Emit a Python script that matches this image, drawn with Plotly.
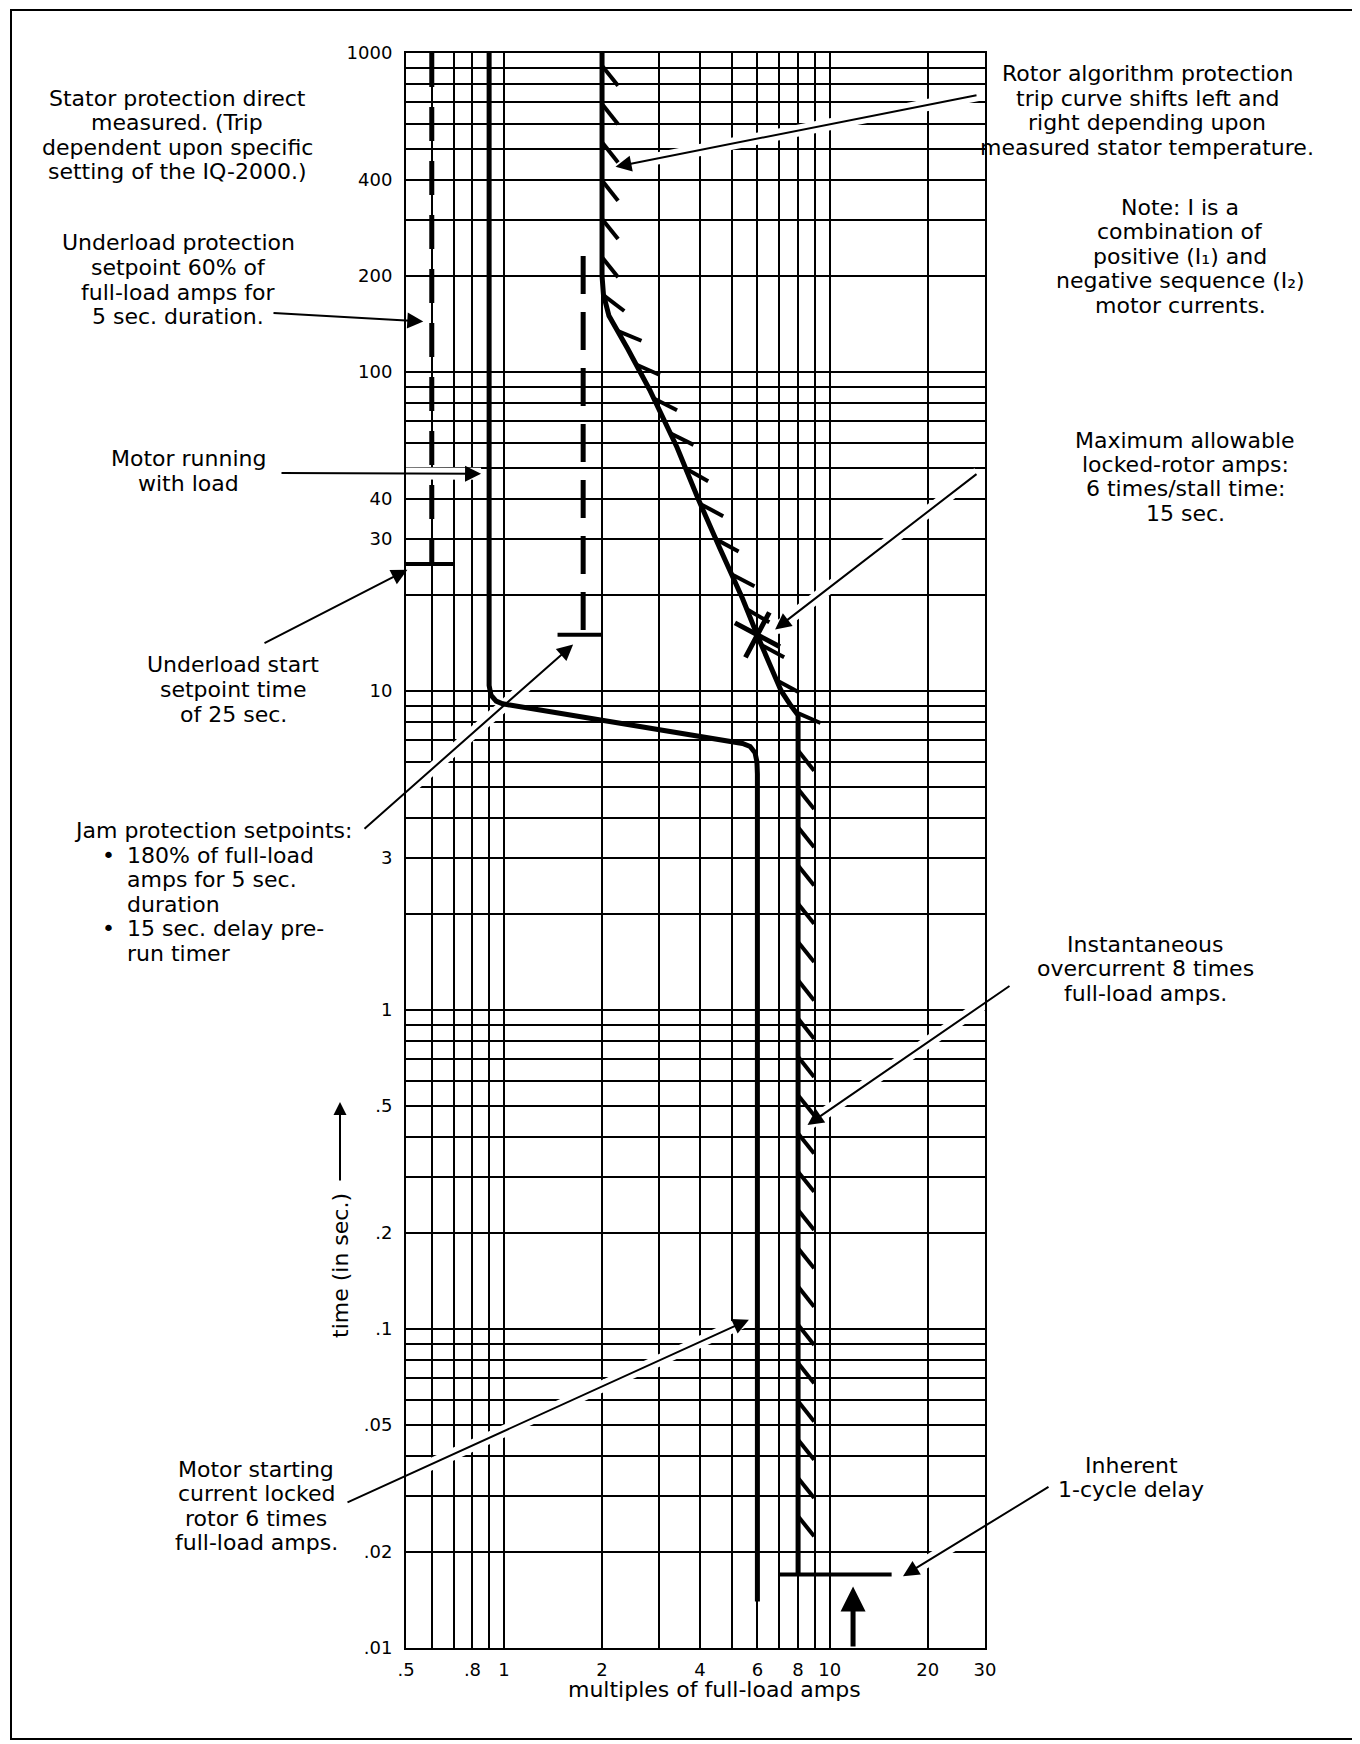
import numpy as np
import plotly.graph_objects as go

# ---------------- data ----------------
x_grid = [0.5, 0.6, 0.7, 0.8, 0.9, 1, 2, 3, 4, 5, 6, 7, 8, 9, 10, 20, 30]
x_labels = ['.5', '', '', '.8', '', '1', '2', '', '4', '', '6', '', '8', '', '10', '20', '30']

y_grid = [round(m * 10.0 ** e, 4) for e in range(-2, 3) for m in range(1, 10)] + [1000]
y_label_vals = [0.01, 0.02, 0.05, 0.1, 0.2, 0.5, 1, 3, 10, 30, 40, 100, 200, 400, 1000]
y_label_txt = ['.01', '.02', '.05', '.1', '.2', '.5', '1', '3', '10', '30', '40', '100', '200', '400', '1000']

# motor running with load / starting current curve
running_x = [0.9, 0.9, 0.912, 0.946, 0.99, 1.03, 2.0, 4.0, 5.0, 5.4, 5.7, 5.9, 5.98, 6.0, 6.0]
running_t = [1000, 10.4, 9.7, 9.3, 9.12, 9.05, 8.1, 7.25, 6.95, 6.85, 6.7, 6.4, 6.0, 5.5, 0.014]

# rotor algorithm trip curve + instantaneous overcurrent
rotor_x = [2.0, 2.0, 2.02, 2.1, 2.4, 2.8, 3.4, 3.93, 4.6, 5.4, 6.02, 7.1, 7.6, 7.9, 8.0, 8.0]
rotor_t = [1000, 200, 175, 150, 118, 88, 58, 40.4, 28, 19.5, 14.8, 10.0, 9.0, 8.6, 8.4, 0.017]

# underload (stator) dashed line and start setpoint
stator_x = [0.6, 0.6]
stator_t = [1000, 25]
ul_tick_x = [0.5, 0.7]
ul_tick_t = [25, 25]

# jam protection dashed line and delay setpoint
jam_x = [1.75, 1.75]
jam_t = [231, 15]
jam_tick_x = [1.46, 2.0]
jam_tick_t = [15, 15]

# inherent 1-cycle delay
cyc_x = [6.95, 15.5]
cyc_t = [0.017, 0.017]

# maximum allowable locked rotor point
stall_x = [6.0]
stall_t = [15.0]

# arrows: (head x, head t, tail x px, tail y px)
arrow_heads = [
    (2.2, 440, 970, 87),        # rotor algorithm
    (0.565, 144, 264, 305),     # underload protection
    (0.85, 48, 272, 465),       # motor running
    (0.505, 24, 255, 636),      # underload start
    (1.63, 14.0, 355, 822),     # jam protection
    (6.8, 15.6, 970, 465),      # max allowable
    (8.55, 0.436, 1003, 977),   # instantaneous
    (5.65, 0.107, 338, 1495),   # motor starting
    (16.8, 0.0168, 1042, 1478), # 1-cycle delay
]
up_arrow = (11.8, 0.0156)

# ---------------- layout geometry ----------------
L, R_, T, B = 398, 977, 45, 1640
W, H = R_ - L, B - T
LX0, LX1 = np.log10(0.5), np.log10(30)


def px(x):
    return (x - L) / W


def py(y):
    return (B - y) / H


def data_px(x, t):
    return (L + (np.log10(x) - LX0) / (LX1 - LX0) * W,
            T + (3 - np.log10(t)) / 5 * H)


def px_data(X, Y):
    return (10 ** (LX0 + (X - L) / W * (LX1 - LX0)),
            10 ** (3 - (Y - T) / H * 5))


fig = go.Figure()

# white halos under the leader lines (breaks in the printed grid)
hal_x, hal_y = [], []
for hxv, htv, tx_, ty_ in arrow_heads:
    ex, ey = px_data(tx_, ty_)
    hal_x += [hxv, ex, None]
    hal_y += [htv, ey, None]
fig.add_trace(go.Scatter(x=hal_x, y=hal_y, mode='lines', line=dict(color='white', width=12),
                         hoverinfo='skip', showlegend=False))


def add_line(xs, ts, width=5, dash=None):
    fig.add_trace(go.Scatter(x=xs, y=ts, mode='lines',
                             line=dict(color='black', width=width, dash=dash),
                             hoverinfo='skip', showlegend=False, cliponaxis=False))


add_line(stator_x, stator_t, 5, '34px,20px')
add_line(ul_tick_x, ul_tick_t, 4)
add_line(jam_x, jam_t, 5, '38px,18px')
add_line(jam_tick_x, jam_tick_t, 4)
add_line(running_x, running_t, 5)
add_line(rotor_x, rotor_t, 5)
add_line(cyc_x, cyc_t, 4)


# hatch marks along the rotor curve (computed in log space)
def hatch(xs, ts, step=0.12, s0=0.04, length=0.08, theta=np.radians(38), tmin=0.022):
    lx = np.log10(xs)
    ly = np.log10(ts)
    seg = np.hypot(np.diff(lx), np.diff(ly))
    cum = np.concatenate([[0], np.cumsum(seg)])
    hx, hy = [], []
    s = s0
    while s < cum[-1]:
        i = int(np.searchsorted(cum, s, side='right') - 1)
        i = min(i, len(seg) - 1)
        if seg[i] == 0:
            s += step
            continue
        f = (s - cum[i]) / seg[i]
        bx = lx[i] + f * (lx[i + 1] - lx[i])
        by = ly[i] + f * (ly[i + 1] - ly[i])
        dx = (lx[i + 1] - lx[i]) / seg[i]
        dy = (ly[i + 1] - ly[i]) / seg[i]
        tx = np.cos(theta) * dx - np.sin(theta) * dy
        ty = np.sin(theta) * dx + np.cos(theta) * dy
        if 10 ** by >= tmin:
            hx += [10 ** bx, 10 ** (bx + length * tx), None]
            hy += [10 ** by, 10 ** (by + length * ty), None]
        s += step
    return hx, hy


hx, hy = hatch(rotor_x, rotor_t)
fig.add_trace(go.Scatter(x=hx, y=hy, mode='lines', line=dict(color='black', width=4),
                         hoverinfo='skip', showlegend=False, cliponaxis=False))

fig.add_trace(go.Scatter(x=stall_x, y=stall_t, mode='markers',
                         marker=dict(symbol='x-thin', size=36, angle=-17,
                                     line=dict(color='black', width=5)),
                         hoverinfo='skip', showlegend=False, cliponaxis=False))

annotations = []
for hxv, htv, tx_, ty_ in arrow_heads:
    hpx, hpy = data_px(hxv, htv)
    annotations.append(dict(x=np.log10(hxv), y=np.log10(htv), xref='x', yref='y',
                            text='', showarrow=True, ax=tx_ - hpx, ay=ty_ - hpy,
                            arrowhead=2, arrowsize=1.6, arrowwidth=2, arrowcolor='black'))
upx, upy = data_px(*up_arrow)
annotations.append(dict(x=np.log10(up_arrow[0]), y=np.log10(up_arrow[1]), xref='x', yref='y',
                        text='', showarrow=True, ax=0, ay=B - upy,
                        arrowhead=2, arrowsize=1.0, arrowwidth=5, arrowcolor='black'))

FS = 22
PITCH = 24.5


def block(lines, cx, y0, anchor='center'):
    for k, t in enumerate(lines):
        annotations.append(dict(x=px(cx), y=py(y0 + k * PITCH), xref='paper', yref='paper',
                                text=t, showarrow=False, xanchor=anchor, yanchor='middle',
                                align=anchor if anchor != 'center' else 'center',
                                font=dict(size=FS)))


block(['Stator protection direct', 'measured. (Trip', 'dependent upon specific',
       'setting of the IQ-2000.)'], 169, 90.3)
block(['Underload protection', 'setpoint 60% of', 'full-load amps for', '5 sec. duration.'], 170, 235)
block(['Motor running', 'with load'], 180, 451)
block(['Underload start', 'setpoint time', 'of 25 sec.'], 225, 657)
block(['Jam protection setpoints:'], 64, 822.6, 'left')
block(['•'], 92, 847.1, 'left')
block(['•'], 92, 920.6, 'left')
block(['180% of full-load', 'amps for 5 sec.', 'duration', '15 sec. delay pre-', 'run timer'],
      117, 847.1, 'left')
block(['Motor starting', 'current locked', 'rotor 6 times', 'full-load amps.'], 248, 1461.4)
block(['Rotor algorithm protection', 'trip curve shifts left and', 'right depending upon',
       'measured stator temperature.'], 1139, 65.8)
block(['Note: I is a', 'combination of', 'positive (I₁) and',
       'negative sequence (I₂)', 'motor currents.'], 1172, 199.3)
block(['Maximum allowable', 'locked-rotor amps:', '6 times/stall time:', '15 sec.'], 1177, 432)
block(['Instantaneous', 'overcurrent 8 times', 'full-load amps.'], 1137, 936)
block(['Inherent', '1-cycle delay'], 1123, 1457)

# axis titles
annotations.append(dict(x=px(706), y=py(B + 41), xref='paper', yref='paper',
                        text='multiples of full-load amps', showarrow=False,
                        xanchor='center', yanchor='middle', font=dict(size=FS)))
annotations.append(dict(x=px(332), y=py(1258), xref='paper', yref='paper',
                        text='time (in sec.)', showarrow=False, textangle=-90,
                        xanchor='center', yanchor='middle', font=dict(size=FS)))
annotations.append(dict(x=px(332), y=py(1094), xref='paper', yref='paper',
                        text='', showarrow=True, ax=0, ay=80,
                        arrowhead=2, arrowsize=1.3, arrowwidth=2, arrowcolor='black'))

shapes = [dict(type='rect', xref='paper', yref='paper',
               x0=px(3), x1=px(1349), y0=py(1731), y1=py(2),
               line=dict(color='black', width=2))]

y_text = []
for v in y_grid:
    lab = ''
    for lv, lt in zip(y_label_vals, y_label_txt):
        if abs(v - lv) < 1e-9 * max(1, lv):
            lab = lt
    y_text.append(lab)

fig.update_layout(width=1360, height=1744,
                  margin=dict(l=L, r=1360 - R_, t=T, b=1744 - B),
                  paper_bgcolor='white', plot_bgcolor='white', showlegend=False,
                  font=dict(family='DejaVu Sans', size=FS, color='black'),
                  annotations=annotations, shapes=shapes)
fig.update_xaxes(type='log', range=[LX0, LX1], tickmode='array',
                 tickvals=x_grid, ticktext=x_labels, showgrid=True, gridcolor='black',
                 gridwidth=2, showline=True, linecolor='black', linewidth=2, mirror=True,
                 ticks='outside', ticklen=4, tickcolor='rgba(0,0,0,0)',
                 tickfont=dict(size=18), zeroline=False)
fig.update_yaxes(type='log', range=[-2, 3], tickmode='array', tickvals=y_grid,
                 ticktext=y_text, showgrid=True, gridcolor='black', gridwidth=2,
                 showline=True, linecolor='black', linewidth=2, mirror=True,
                 ticks='outside', ticklen=8, tickcolor='rgba(0,0,0,0)',
                 tickfont=dict(size=18), zeroline=False)

fig.write_html('out.html', config={'displayModeBar': False})
